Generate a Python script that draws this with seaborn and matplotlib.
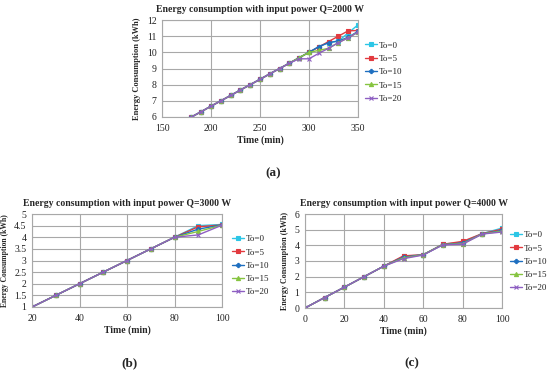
import matplotlib
matplotlib.use("Agg")
import matplotlib.pyplot as plt
import seaborn as sns
import pandas as pd

sns.set_theme(style="white")
plt.rcParams['font.family'] = ['Liberation Serif', 'DejaVu Serif']

series = ["To=0", "To=5", "To=10", "To=15", "To=20"]
colors = ["#2CC6E6", "#E23A3F", "#1E6FC0", "#86C440", "#8E5FC2"]
markers = ["s", "s", "P", "^", "x"]
msizes = [2.2, 3.0, 3.0, 3.0, 3.2]

# Panel (a): Q=2000 W
time_a = [180, 190, 200, 210, 220, 230, 240, 250, 260, 270, 280, 290, 300, 310, 320, 330, 340, 350]
base_a = [6.0, 6.33, 6.67, 7.0, 7.33, 7.67, 8.0, 8.33, 8.67, 9.0, 9.33]
a_to0 = base_a + [9.67, 10.0, 10.35, 10.6, 10.7, 11.2, 11.7]
a_to5 = base_a + [9.67, 10.0, 10.33, 10.67, 11.0, 11.33, 11.35]
a_to10 = base_a + [9.67, 10.0, 10.35, 10.6, 10.7, 10.93, 11.3]
a_to15 = base_a + [9.67, 10.0, 10.12, 10.25, 10.6, 10.9, 11.25]
a_to20 = base_a + [9.6, 9.6, 9.94, 10.25, 10.6, 10.9, 11.25]

# Panel (b): Q=3000 W
time_b = [20, 30, 40, 50, 60, 70, 80, 90, 100]
base_b = [1.0, 1.5, 2.0, 2.5, 3.0, 3.5, 4.0]
b_to0 = base_b + [4.5, 4.55]
b_to5 = base_b + [4.45, 4.53]
b_to10 = base_b + [4.35, 4.53]
b_to15 = base_b + [4.25, 4.52]
b_to20 = base_b + [4.1, 4.52]

# Panel (c): Q=4000 W
time_c = [0, 10, 20, 30, 40, 50, 60, 70, 80, 90, 100]
c_to0 = [0, 0.67, 1.33, 2.0, 2.67, 3.3, 3.4, 4.07, 4.2, 4.75, 5.1]
c_to5 = [0, 0.67, 1.33, 2.0, 2.67, 3.33, 3.4, 4.07, 4.25, 4.75, 5.03]
c_to10 = [0, 0.67, 1.33, 2.0, 2.67, 3.25, 3.4, 4.05, 4.15, 4.73, 4.95]
c_to15 = [0, 0.67, 1.33, 2.0, 2.67, 3.2, 3.4, 4.05, 4.1, 4.73, 4.9]
c_to20 = [0, 0.67, 1.33, 2.0, 2.67, 3.15, 3.38, 4.03, 4.07, 4.72, 4.85]

W, H = 550, 376
fig = plt.figure(figsize=(5.5, 3.76), dpi=100)
fig.patch.set_facecolor("white")


def add_ax(l, r, t, b):
    return fig.add_axes([l / W, 1 - b / H, (r - l) / W, (b - t) / H])


def draw(ax, x, ys, title, xlim, ylim, xticks, yticks, ylabel, ylabsize, legend_pos):
    for name, y, c, m, ms in zip(series, ys, colors, markers, msizes):
        df = pd.DataFrame({"x": x, "y": y})
        sns.lineplot(data=df, x="x", y="y", ax=ax, color=c, marker=m, markersize=ms,
                     markeredgecolor=c, markeredgewidth=0.8, linewidth=1.0, label=name)
    ax.set_xlim(*xlim)
    ax.set_ylim(*ylim)
    ax.set_xticks(xticks)
    ax.set_yticks(yticks)
    ax.set_yticklabels(["%g" % v for v in yticks])
    ax.grid(True, color="#a8a8a8", linewidth=0.8)
    for s in ax.spines.values():
        s.set_color("#a8a8a8")
        s.set_linewidth(0.8)
    ax.tick_params(axis="x", labelsize=7, length=0, pad=5, colors="#222222")
    ax.tick_params(axis="y", labelsize=7, length=0, pad=4, colors="#222222")
    ax.set_title(title, fontsize=7, fontweight="bold", pad=6)
    ax.set_xlabel("Time (min)", fontsize=7, fontweight="bold", labelpad=2)
    ax.set_ylabel(ylabel, fontsize=ylabsize, fontweight="bold", labelpad=4)
    leg = ax.legend(loc="upper left", bbox_to_anchor=legend_pos, frameon=False, fontsize=6.5,
                    handlelength=1.3, handletextpad=0.2, labelspacing=0.55, borderaxespad=0,
                    borderpad=0)
    for t in leg.get_texts():
        t.set_color("#222222")


ax_a = add_ax(162, 358, 20, 117)
draw(ax_a, time_a, [a_to0, a_to5, a_to10, a_to15, a_to20],
     "Energy consumption with input power Q=2000 W", (150, 350), (6, 12),
     [150, 200, 250, 300, 350], [6, 7, 8, 9, 10, 11, 12],
     "Energy Consumption (kWh)", 6.0, (1.036, 0.78))

ax_b = add_ax(32, 222, 214, 307)
draw(ax_b, time_b, [b_to0, b_to5, b_to10, b_to15, b_to20],
     "Energy consumption with input power Q=3000 W", (20, 100), (1, 5),
     [20, 40, 60, 80, 100], [1, 1.5, 2, 2.5, 3, 3.5, 4, 4.5, 5],
     "Energy Consumption (kWh)", 5.5, (1.053, 0.775))

ax_c = add_ax(305, 502, 214, 308)
draw(ax_c, time_c, [c_to0, c_to5, c_to10, c_to15, c_to20],
     "Energy consumption with input power Q=4000 W", (0, 100), (0, 6),
     [0, 20, 40, 60, 80, 100], [0, 1, 2, 3, 4, 5, 6],
     "Energy Consumption (kWh)", 5.8, (1.04, 0.82))

fig.text(273 / W, 1 - 173 / H, "(a)", ha="center", va="center", fontsize=9.5, fontweight="bold")
fig.text(130 / W, 1 - 363 / H, "(b)", ha="center", va="center", fontsize=9.5, fontweight="bold")
fig.text(412 / W, 1 - 363 / H, "(c)", ha="center", va="center", fontsize=9.5, fontweight="bold")

fig.savefig("out.png", dpi=100, facecolor="white")
